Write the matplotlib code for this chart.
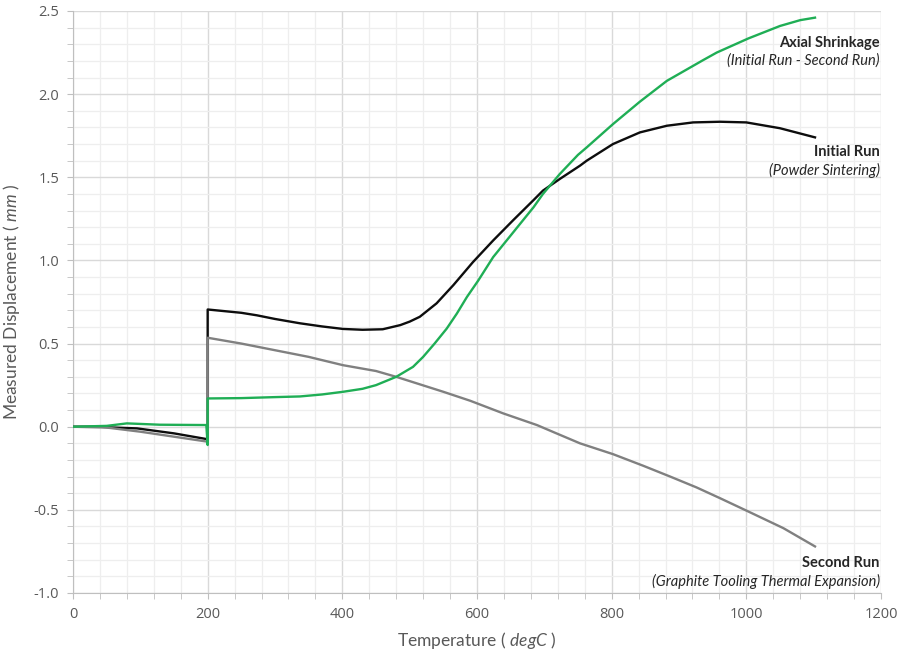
import matplotlib
matplotlib.use("Agg")
import matplotlib.pyplot as plt
from matplotlib.ticker import MultipleLocator, FormatStrFormatter

# Temperature (degC) / displacement (mm)
initial_x = [0, 40, 60, 95, 150, 198, 200, 200, 225, 250, 273, 300, 337, 370, 401,
             430, 460, 486, 500, 515, 540, 565, 594, 624, 654, 684, 698, 723, 753,
             763, 802, 842, 882, 921, 961, 1000, 1050, 1102]
initial_y = [0, 0, -0.005, -0.01, -0.04, -0.074, -0.076, 0.705, 0.695, 0.685, 0.67,
             0.648, 0.622, 0.603, 0.588, 0.583, 0.586, 0.611, 0.632, 0.661, 0.742,
             0.852, 0.99, 1.12, 1.243, 1.363, 1.42, 1.49, 1.57, 1.60, 1.70, 1.77,
             1.81, 1.83, 1.834, 1.83, 1.795, 1.74]

second_x = [0, 50, 100, 150, 200, 200, 250, 300, 350, 401, 450, 480, 515, 550, 590,
            639, 689, 718, 753, 802, 847, 887, 926, 961, 1003, 1055, 1102]
second_y = [0, -0.005, -0.03, -0.06, -0.09, 0.535, 0.50, 0.46, 0.42, 0.37, 0.335,
            0.30, 0.255, 0.21, 0.156, 0.08, 0.01, -0.04, -0.10, -0.165, -0.235,
            -0.30, -0.365, -0.43, -0.51, -0.61, -0.72]

shrink_x = [0, 50, 80, 129, 198, 200, 200, 250, 300, 337, 370, 401, 430, 450, 480,
            505, 520, 537, 555, 570, 585, 602, 624, 654, 684, 698, 723, 750, 763,
            802, 842, 882, 936, 956, 1003, 1050, 1080, 1102]
shrink_y = [0, 0.005, 0.02, 0.012, 0.01, -0.11, 0.17, 0.172, 0.178, 0.182, 0.194,
            0.21, 0.228, 0.25, 0.30, 0.36, 0.42, 0.50, 0.59, 0.68, 0.78, 0.88, 1.02,
            1.17, 1.32, 1.40, 1.52, 1.635, 1.68, 1.82, 1.955, 2.08, 2.205, 2.25,
            2.335, 2.41, 2.445, 2.46]

labels = [
    ("Axial Shrinkage", "(Initial Run - Second Run)", 2.31),
    ("Initial Run", "(Powder Sintering)", 1.65),
    ("Second Run", "(Graphite Tooling Thermal Expansion)", -0.82),
]

plt.rcParams["font.family"] = ["Lato", "DejaVu Sans"]
plt.rcParams["mathtext.fontset"] = "custom"
plt.rcParams["mathtext.it"] = "Lato:italic"
plt.rcParams["mathtext.rm"] = "Lato"

fig = plt.figure(figsize=(9.06, 6.57), dpi=100)
ax = fig.add_axes([73 / 906, 1 - 593 / 657, 808 / 906, 582 / 657])

ax.plot(initial_x, initial_y, color="#0d0d0d", lw=1.7, zorder=3)
ax.plot(second_x, second_y, color="#808080", lw=1.7, zorder=4)
ax.plot(shrink_x, shrink_y, color="#1fae55", lw=1.7, zorder=5)

ax.set_xlim(0, 1200)
ax.set_ylim(-1.0, 2.5)
ax.xaxis.set_major_locator(MultipleLocator(200))
ax.xaxis.set_minor_locator(MultipleLocator(40))
ax.yaxis.set_major_locator(MultipleLocator(0.5))
ax.yaxis.set_minor_locator(MultipleLocator(0.1))
ax.yaxis.set_major_formatter(FormatStrFormatter("%.1f"))

ax.grid(which="major", color="#d9d9d9", lw=1.0, zorder=0)
ax.grid(which="minor", color="#eeeeee", lw=0.9, zorder=0)
ax.set_axisbelow(True)

for s in ("top", "right"):
    ax.spines[s].set_visible(False)
for s in ("left", "bottom"):
    ax.spines[s].set_color("#bfbfbf")

ax.tick_params(which="both", direction="out", length=4, color="#bfbfbf",
               labelcolor="#595959")
ax.tick_params(which="major", labelsize=10.5)
for t in ax.get_xticklabels() + ax.get_yticklabels():
    t.set_family(["Open Sans", "DejaVu Sans"])
ax.tick_params(axis="x", pad=6)
ax.tick_params(axis="y", pad=6)

ax.set_xlabel("Temperature ( $\\mathit{degC}$ )", fontsize=12.5, color="#595959",
              labelpad=6)
ax.set_ylabel("Measured Displacement ( $\\mathit{mm}$ )", fontsize=12.5,
              color="#595959", labelpad=8)

for title, sub, yv in labels:
    ax.text(1198, yv, title, ha="right", va="center", fontsize=10.5,
            fontweight="bold", color="#262626", zorder=6)
    ax.text(1198, yv - 0.11, sub, ha="right", va="center", fontsize=10.5,
            style="italic", color="#262626", zorder=6)

fig.savefig("out.png", dpi=100)
